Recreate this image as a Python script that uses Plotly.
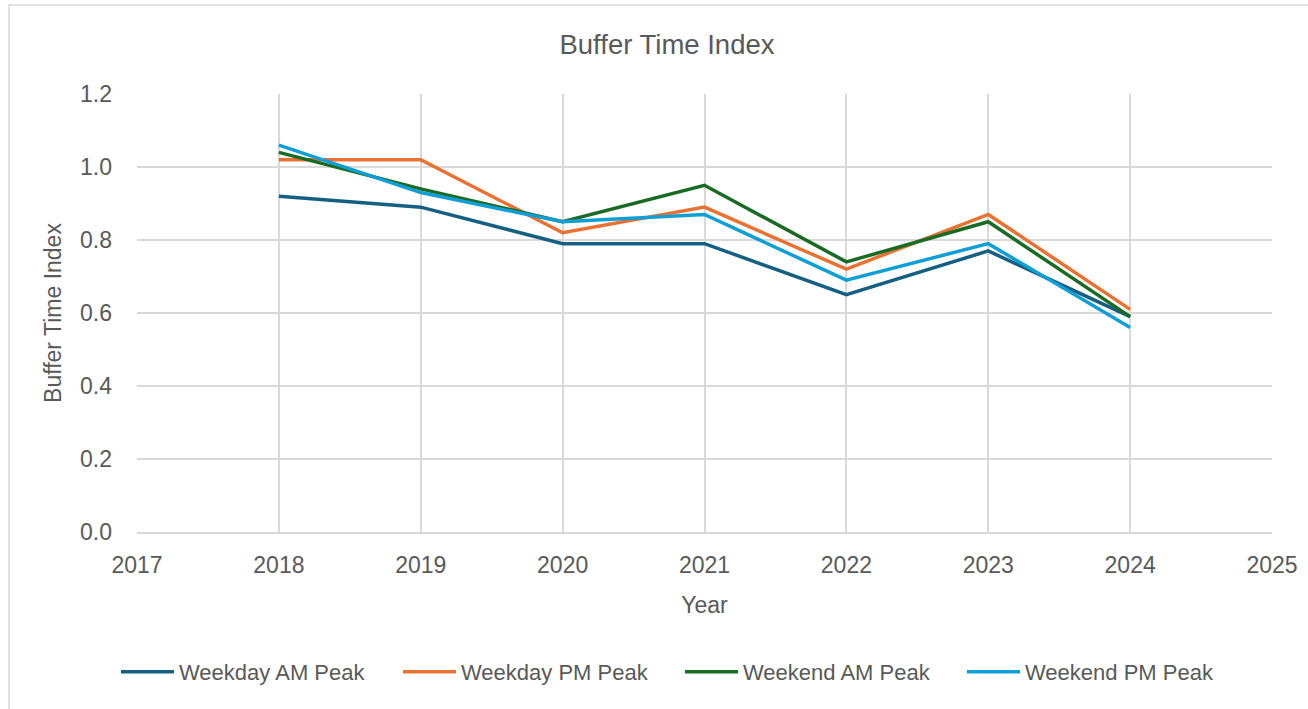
import plotly.graph_objects as go

# Buffer Time Index by year and peak period
years = [2018, 2019, 2020, 2021, 2022, 2023, 2024]
weekday_am = [0.92, 0.89, 0.79, 0.79, 0.65, 0.77, 0.59]
weekday_pm = [1.02, 1.02, 0.82, 0.89, 0.72, 0.87, 0.61]
weekend_am = [1.04, 0.94, 0.85, 0.95, 0.74, 0.85, 0.59]
weekend_pm = [1.06, 0.93, 0.85, 0.87, 0.69, 0.79, 0.56]

series = [
    ("Weekday AM Peak", weekday_am, "#156082"),
    ("Weekday PM Peak", weekday_pm, "#E97132"),
    ("Weekend AM Peak", weekend_am, "#196B24"),
    ("Weekend PM Peak", weekend_pm, "#0F9ED5"),
]

x_ticks = list(range(2017, 2026))
y_ticks = [0.0, 0.2, 0.4, 0.6, 0.8, 1.0, 1.2]

FONT = "Liberation Sans, Arial, sans-serif"
TEXT = "#595959"
GRID = "#D9D9D9"

fig = go.Figure()
for name, vals, color in series:
    fig.add_trace(go.Scatter(
        x=years, y=vals, name=name, mode="lines",
        line=dict(color=color, width=3.5),
    ))

W, H = 1308, 709
L, R, T, B = 137, 36, 94, 177
pw, ph = W - L - R, H - T - B

def px_x(p):
    return (p - L) / pw

def px_y(p):
    return (H - B - p) / ph

fig.update_layout(
    width=W, height=H,
    margin=dict(l=L, r=R, t=T, b=B, autoexpand=False),
    paper_bgcolor="white", plot_bgcolor="white",
    font=dict(family=FONT, color=TEXT, size=23),
    title=dict(text="Buffer Time Index", x=667 / W, xanchor="center",
               y=1 - 44 / H, yanchor="middle", xref="container", yref="container",
               font=dict(size=27.5, color=TEXT, family=FONT)),
    xaxis=dict(
        range=[2017, 2025], tickmode="array", tickvals=x_ticks,
        ticktext=[str(v) for v in x_ticks],
        showgrid=True, gridcolor=GRID, gridwidth=1.5,
        showline=True, linecolor=GRID, linewidth=1.5,
        zeroline=False, ticks="", ticklabelstandoff=12,
        tickfont=dict(size=23, color=TEXT),
        title=dict(text="Year", font=dict(size=23, color=TEXT), standoff=20),
    ),
    yaxis=dict(
        range=[0, 1.2], tickmode="array", tickvals=y_ticks,
        ticktext=[f"{v:.1f}" for v in y_ticks],
        showgrid=True, gridcolor=GRID, gridwidth=1.5,
        zeroline=False, showline=False, ticks="", ticklabelstandoff=24,
        tickfont=dict(size=23, color=TEXT),
        title=dict(text="Buffer Time Index", font=dict(size=23, color=TEXT), standoff=11),
    ),
    legend=dict(
        orientation="h", xref="container", x=680 / W, xanchor="center",
        y=px_y(672), yanchor="middle",
        font=dict(size=22, color=TEXT), itemwidth=53,
        entrywidth=214, entrywidthmode="pixels",
        bgcolor="rgba(0,0,0,0)",
    ),
    shapes=[dict(
        type="rect", xref="paper", yref="paper",
        x0=px_x(9), x1=px_x(1330), y0=px_y(5), y1=px_y(730),
        line=dict(color="#D9D9D9", width=1.5), fillcolor="rgba(0,0,0,0)",
        layer="below",
    )],
)

fig.write_html("out.html")
